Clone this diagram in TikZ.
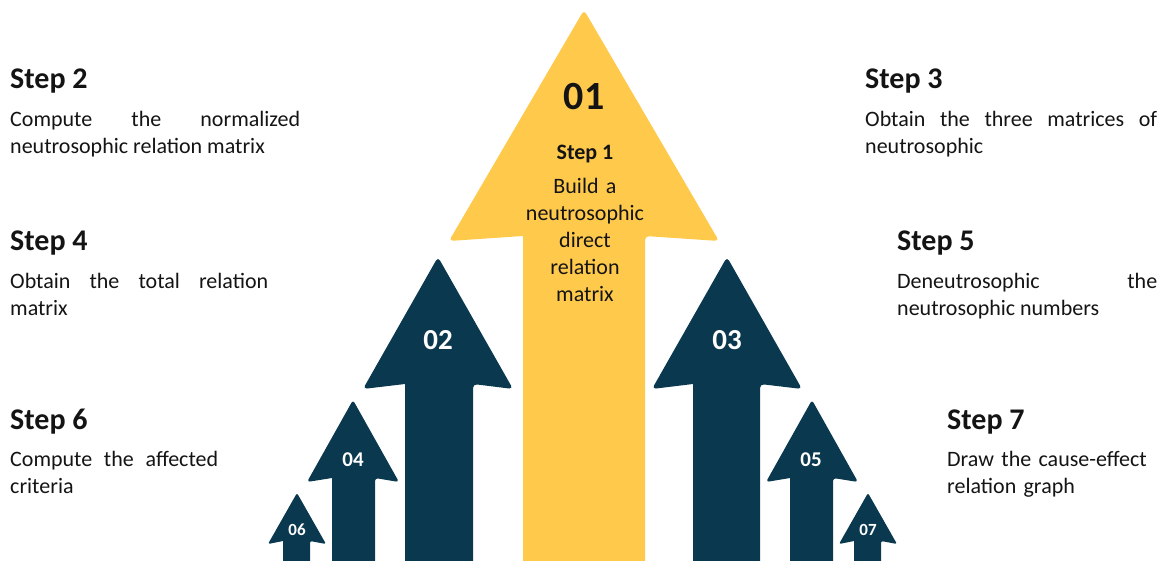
\documentclass[tikz,border=0pt]{standalone}
\usepackage{fontspec}
\setmainfont{Carlito}
\definecolor{yellowc}{RGB}{255,201,76}
\definecolor{navyc}{RGB}{9,56,79}
\definecolor{textc}{RGB}{20,20,20}
\hyphenpenalty=10000
\exhyphenpenalty=10000
\tolerance=10000
\hbadness=10000
\begin{document}
\begin{tikzpicture}[x=1pt,y=-1pt,
  head/.style={anchor=base west,inner sep=0pt,text=textc,font=\fontsize{30}{36}\selectfont\bfseries},
  body/.style={anchor=base west,inner sep=0pt,text=textc,align=justify,font=\fontsize{22}{27}\selectfont},
  num/.style={anchor=base,inner sep=0pt,text=white,font=\bfseries},
  yarrow/.style={fill=yellowc},
  narrow/.style={fill=navyc}]
\useasboundingbox (0,0) rectangle (1157,561);
% arrows
\fill[yarrow] (523,561) -- (523,236) [rounded corners=4pt] -- (449,241) -- (584,10) -- (719,241) -- (645,236) [sharp corners] -- (645,561) -- cycle;
\fill[narrow] (405,561) -- (405,384) [rounded corners=4pt] -- (363,389) -- (438,257) -- (513,389) -- (473,384) [sharp corners] -- (473,561) -- cycle;
\fill[narrow] (332,561) -- (332,478) [rounded corners=3pt] -- (307,482) -- (353,400) -- (399,482) -- (375,478) [sharp corners] -- (375,561) -- cycle;
\fill[narrow] (283,561) -- (283,541) [rounded corners=2pt] -- (268,544) -- (297,493) -- (326,544) -- (310,541) [sharp corners] -- (310,561) -- cycle;
\fill[narrow] (693,561) -- (693,384) [rounded corners=4pt] -- (652,389) -- (727,257) -- (802,389) -- (760,384) [sharp corners] -- (760,561) -- cycle;
\fill[narrow] (790,561) -- (790,478) [rounded corners=3pt] -- (766,482) -- (812,400) -- (858,482) -- (833,478) [sharp corners] -- (833,561) -- cycle;
\fill[narrow] (854,561) -- (854,541) [rounded corners=2pt] -- (839,544) -- (868,493) -- (897,544) -- (881,541) [sharp corners] -- (881,561) -- cycle;
% arrow labels
\node[num,text=textc,font=\fontsize{40}{48}\selectfont\bfseries] (n1) at (584,110) {01};
\node[anchor=base,inner sep=0pt,text=textc,font=\fontsize{22}{27}\selectfont\bfseries] (s1) at (585,160) {Step 1};
\node[anchor=base,inner sep=0pt,text=textc,text width=130pt,align=center,font=\fontsize{22}{27}\selectfont] (b1) at (585,194) {Build a\\neutrosophic\\direct\\relation\\matrix};
\node[num,font=\fontsize{29}{34}\selectfont\bfseries] (n2) at (438,349) {02};
\node[num,font=\fontsize{29}{34}\selectfont\bfseries] (n3) at (727,349) {03};
\node[num,font=\fontsize{21}{25}\selectfont\bfseries] (n4) at (353,466) {04};
\node[num,font=\fontsize{21}{25}\selectfont\bfseries] (n5) at (811,466) {05};
\node[num,font=\fontsize{17}{20}\selectfont\bfseries] (n6) at (297,535) {06};
\node[num,font=\fontsize{17}{20}\selectfont\bfseries] (n7) at (868,535) {07};
% left texts
\node[head] (h2) at (10,89) {Step 2};
\node[body,text width=290pt] (t2) at (10,127) {Compute the normalized neutrosophic relation matrix};
\node[head] (h4) at (10,251) {Step 4};
\node[body,text width=258pt] (t4) at (10,289) {Obtain the total relation matrix};
\node[head] (h6) at (10,429) {Step 6};
\node[body,text width=208pt] (t6) at (10,466) {Compute the affected criteria};
% right texts
\node[head] (h3) at (865,89) {Step 3};
\node[body,text width=292pt] (t3) at (865,127) {Obtain the three matrices of neutrosophic};
\node[head] (h5) at (897,251) {Step 5};
\node[body,text width=260pt] (t5) at (897,289) {Deneutrosophic the neutrosophic numbers};
\node[head] (h7) at (947,429) {Step 7};
\node[body,text width=205pt,align=left] (t7) at (947,466) {Draw the cause-effect\\relation graph};
\end{tikzpicture}
\end{document}
